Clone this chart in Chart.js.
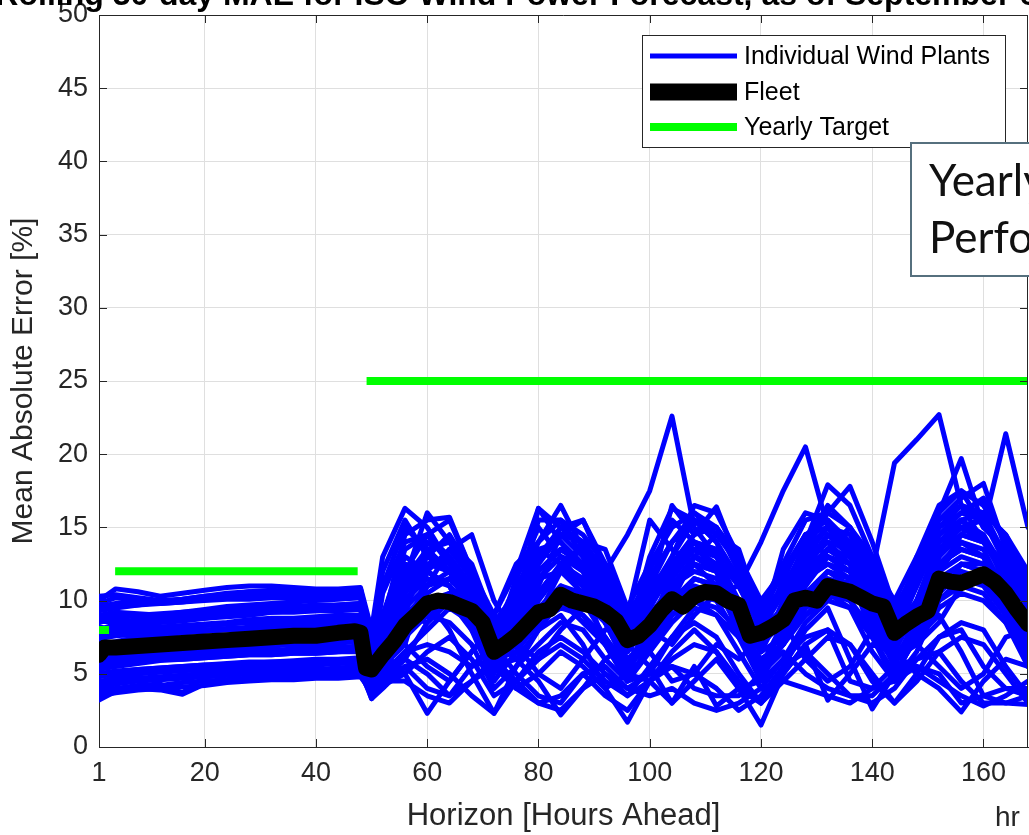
<!DOCTYPE html>
<html>
<head>
<meta charset="utf-8">
<script src="https://cdn.jsdelivr.net/npm/chart.js@4.4.0/dist/chart.umd.min.js"></script>
<style>
html,body{margin:0;padding:0;background:#fff;overflow:hidden}
#wrap{width:1029px;height:835px;position:relative}
</style>
</head>
<body>
<div id="wrap"><canvas id="maeChart"></canvas></div>
<script>
// horizons sampled for the individual plants
var plantHours = [1,4,8,12,16,20,24,28,32,36,40,44,48,50,52,56,60,64,68,72,76,80,84,88,92,96,100,104,108,112,116,120,124,128,132,136,140,144,148,152,156,160,164,168];

// I N D I V I D U A L  W I N D  P L A N T S  (MAE %, one row per plant)
var plantMae = [
  [10.0,10.8,10.6,10.3,10.5,10.7,10.9,11.0,11.0,10.9,10.8,10.8,10.9, 8.0,13.0, 16.3,15.0,12.5,10.0,7.5,10.5,14.0,16.5,13.5,11.0,8.5,11.5,14.0,15.5,14.0,11.5,8.0,10.5,13.0,15.0,13.5,11.0,8.5,11.5,15.0,16.0,15.5,13.0,10.0],
  [9.3,9.5,9.7,9.9,10.1,10.3,10.4,10.6,10.5,10.4,10.3,10.3,10.6, 6.5,9.0, 13.0,12.0,11.0,9.0,6.5,9.0,12.0,13.5,12.5,12.0,14.5,17.5,22.6,15.0,13.0,11.0,14.0,17.5,20.5,15.0,13.0,12.0,19.4,21.0,22.7,16.5,14.0,12.0,10.5],
  [9.0,9.2,9.1,9.0,9.2,9.4,9.6,9.7,9.8,9.9,10.0,10.1,10.2, 5.5,8.0, 12.0,14.5,15.5,12.0,8.0,11.0,13.5,14.0,12.0,10.0,7.0,10.5,13.0,16.5,16.0,13.0,9.0,12.0,14.0,17.9,16.5,13.0,9.0,12.5,16.0,19.7,15.0,21.4,15.0],
  [8.5,8.8,9.0,8.8,8.9,9.1,9.3,9.5,9.6,9.6,9.5,9.7,9.8, 5.0,7.5, 11.5,16.0,14.0,11.5,7.0,9.5,16.3,15.0,15.5,12.0,8.0,10.5,16.5,14.5,16.4,12.5,8.5,11.0,13.5,16.0,17.8,14.0,9.5,12.0,15.5,17.0,18.0,13.5,11.0],
  [7.5,7.8,7.9,8.0,8.1,8.3,8.4,8.5,8.5,8.6,8.6,8.7,8.8, 6.0,6.5, 5.0,2.3,4.5,6.5,8.0,6.0,4.5,2.2,4.0,6.0,7.0,5.5,3.0,4.5,6.0,4.0,1.5,5.0,7.0,3.2,5.0,7.0,6.5,5.0,4.0,2.4,4.5,6.0,5.5],
  [6.5,6.6,6.8,7.0,7.0,7.2,7.3,7.4,7.5,7.6,7.5,7.6,7.7, 4.5,6.0, 8.5,10.0,8.0,5.0,2.3,5.5,8.0,9.0,7.0,4.0,1.7,4.5,6.5,8.0,6.5,4.0,3.0,5.5,8.0,9.5,6.0,2.6,5.0,7.5,9.0,6.5,3.5,3.0,2.9],
  [8.0,8.2,8.3,8.5,8.6,8.8,9.0,9.1,9.2,9.2,9.3,9.3,9.4, 5.5,7.0, 10.5,12.5,13.0,11.0,7.5,9.0,11.5,13.0,12.5,10.5,7.5,9.5,12.0,13.5,13.0,11.0,8.0,9.5,12.0,13.5,13.0,11.0,8.0,10.0,13.5,14.5,14.0,12.0,9.5],
  [7.0,7.2,7.5,7.6,7.8,7.9,8.0,8.2,8.3,8.4,8.5,8.6,8.7, 5.0,6.5, 9.5,11.0,12.0,10.0,6.0,8.0,10.5,12.0,11.5,9.5,6.5,8.5,11.0,12.5,12.0,10.0,7.0,9.0,11.5,12.5,12.0,10.5,7.0,9.5,12.5,13.5,13.0,11.0,8.5],
  [5.0,5.2,5.3,5.4,5.5,5.6,5.7,5.8,5.8,5.9,6.0,6.0,6.1, 4.0,5.5, 9.0,14.0,13.0,9.5,5.0,7.5,12.5,14.5,13.0,9.0,5.0,8.0,12.0,14.0,13.5,9.0,5.0,8.5,12.0,14.5,13.5,9.0,5.5,9.0,13.0,15.5,14.5,11.0,7.0],
  [4.5,4.6,4.7,4.8,4.9,5.0,5.1,5.2,5.2,5.3,5.3,5.4,5.5, 3.3,4.5, 6.0,8.5,10.0,8.0,5.5,6.0,8.0,10.0,9.0,7.0,4.5,6.5,9.0,10.5,10.0,7.5,5.0,7.0,9.5,11.0,10.0,7.5,5.0,7.5,10.5,12.0,11.5,9.0,6.0],
  [3.2,3.8,4.0,3.9,3.6,4.3,4.6,4.7,4.8,4.9,4.9,5.0,5.1, 4.5,5.5, 7.5,9.0,8.5,7.0,4.0,5.5,7.0,8.5,8.0,6.0,4.5,5.0,7.5,9.5,9.0,6.5,4.0,6.0,8.5,10.0,9.5,6.5,4.5,6.5,10.0,11.0,10.5,8.5,5.5],
  [3.8,4.0,4.2,4.3,3.7,4.8,4.9,5.0,5.1,5.1,5.2,5.2,5.3, 3.8,5.0, 6.5,7.0,6.5,5.5,6.0,4.0,5.0,6.5,5.5,4.0,5.0,4.5,3.0,5.5,2.8,4.0,4.5,6.0,7.5,8.0,4.5,4.0,5.5,6.0,7.5,8.0,5.5,4.0,3.5],
  [6.0,6.2,6.3,6.4,6.5,6.6,6.7,6.8,6.9,7.0,7.0,7.1,7.2, 4.5,6.0, 9.0,10.5,11.5,10.0,7.0,7.5,9.5,11.0,10.5,9.0,7.0,8.0,10.0,11.5,11.0,9.5,7.0,8.5,10.5,12.0,11.5,9.5,7.5,8.5,11.5,12.5,12.5,10.5,8.5],
  [7.2,7.0,7.1,7.3,7.4,7.4,7.5,7.6,7.7,7.8,7.9,8.0,8.1, 4.8,7.0, 11.0,13.5,12.0,9.5,6.0,8.5,11.0,14.5,15.5,12.5,9.0,15.5,13.5,12.5,11.0,9.5,6.5,10.0,13.0,14.0,12.5,10.0,6.5,10.0,14.0,15.0,14.0,12.5,9.0],
  [9.0,8.7,8.5,8.6,8.7,8.8,8.9,9.0,9.2,9.3,9.3,9.4,9.5, 6.5,8.5, 14.5,15.5,15.7,12.0,8.0,9.5,12.5,15.0,14.0,11.0,7.5,10.0,13.0,15.5,14.5,12.5,8.5,10.5,14.0,16.5,15.0,12.5,8.0,11.0,14.5,16.0,17.0,14.0,10.0],
  [4.0,4.3,4.5,4.7,4.9,5.0,5.2,5.4,5.5,5.5,5.6,5.7,5.8, 3.5,4.5, 5.5,4.0,3.5,5.5,7.0,5.0,3.5,3.0,5.0,5.5,4.0,5.0,5.5,4.0,3.5,3.5,5.0,6.5,5.0,4.0,3.5,3.5,5.0,5.5,5.0,3.0,3.5,4.0,4.0],
  [5.5,5.7,5.8,6.0,6.1,6.2,6.3,6.4,6.5,6.5,6.6,6.6,6.7, 4.2,5.5, 7.5,9.5,10.5,9.5,8.0,7.0,8.5,10.5,10.0,8.5,6.0,7.5,9.5,11.0,10.5,9.0,6.5,7.5,10.0,11.5,11.0,9.0,6.0,8.0,11.0,12.5,12.0,10.0,7.5],
  [8.2,8.0,8.1,8.2,8.3,8.4,8.5,8.7,8.8,8.8,8.9,9.0,9.0, 5.5,7.5, 12.0,13.0,12.5,11.0,9.0,12.0,16.3,14.0,12.5,10.0,8.0,9.5,12.5,14.5,15.0,13.0,9.5,12.0,14.5,15.5,13.5,11.0,8.5,11.5,14.0,15.5,16.0,13.0,10.5],
  [6.8,6.9,7.0,7.2,7.3,7.3,7.4,7.5,7.6,7.6,7.7,7.8,7.9, 5.0,6.0, 8.0,9.0,10.0,10.5,9.0,7.0,6.0,8.0,9.5,10.5,9.0,8.0,7.0,9.0,10.5,11.0,8.5,7.5,9.0,10.0,11.5,10.5,8.5,7.0,8.5,11.0,12.0,11.5,9.5],
  [4.2,4.4,4.5,4.6,4.7,4.8,4.9,5.0,5.0,5.1,5.1,5.2,5.2, 3.3,4.0, 5.5,6.0,5.0,3.5,2.3,4.5,6.5,7.5,6.5,5.0,3.5,5.5,7.5,8.5,7.5,5.0,3.0,5.0,7.0,8.0,7.0,5.0,3.0,5.0,7.5,8.5,8.0,5.5,3.5],
  [9.5,9.6,9.7,9.8,9.9,10.0,10.1,10.1,10.2,10.2,10.2,10.3,10.4, 6.0,8.0, 11.5,13.5,14.0,12.5,8.5,10.0,13.0,14.5,14.0,11.5,8.5,11.0,14.0,15.5,15.0,12.0,9.0,11.0,13.5,15.0,14.5,12.0,9.5,12.0,15.0,16.5,15.5,13.0,10.5],
  [3.5,3.7,3.9,4.0,4.1,4.2,4.4,4.5,4.6,4.6,4.7,4.7,4.8, 3.8,4.8, 6.5,8.0,9.5,8.5,6.0,6.5,8.5,9.5,9.0,7.5,5.0,6.5,8.5,10.0,9.5,8.0,6.0,7.0,9.0,10.5,10.0,8.0,6.0,7.5,10.0,11.5,11.0,9.0,6.5],
  [5.8,6.0,6.1,6.2,6.3,6.4,6.5,6.6,6.6,6.7,6.8,6.8,6.9, 4.0,5.0, 8.5,11.0,11.5,10.0,5.5,7.0,10.0,12.0,11.0,8.5,5.5,7.5,10.5,12.5,12.0,9.0,5.5,8.0,11.0,13.0,12.5,9.5,6.0,8.5,12.0,14.0,13.5,10.5,7.0],
  [8.8,8.9,9.0,9.1,9.2,9.3,9.4,9.5,9.5,9.6,9.7,9.7,9.8, 7.0,9.0, 13.5,14.5,13.0,11.0,8.5,10.5,13.0,15.0,14.0,12.0,9.0,11.5,14.0,16.0,15.0,12.5,9.5,12.5,15.5,16.0,15.0,12.0,9.0,12.5,16.0,17.5,16.5,14.0,11.0],
  [5.0,5.1,5.3,5.4,5.5,5.6,5.6,5.7,5.8,5.8,5.9,5.9,6.0, 4.5,5.0, 6.0,5.0,3.5,4.5,6.0,4.5,3.0,3.5,5.0,3.5,2.5,4.5,5.5,5.0,4.0,2.5,3.5,5.5,6.5,5.0,3.5,3.0,4.0,6.0,6.5,4.5,3.0,3.0,3.5],
  [6.5,6.7,6.8,6.9,7.0,7.1,7.2,7.2,7.3,7.4,7.4,7.5,7.5, 4.8,6.2, 10.0,12.0,11.0,9.5,7.0,8.5,10.5,12.5,11.5,9.5,7.0,8.5,11.0,13.0,12.5,10.0,7.5,9.0,11.5,13.5,13.0,10.5,7.5,9.5,13.0,14.5,14.0,11.5,8.5],
  [9.8,10.2,10.0,9.8,9.9,10.1,10.2,10.4,10.5,10.4,10.5,10.6,10.8, 7.5,11.0, 15.0,13.5,12.0,9.5,7.0,11.5,15.0,13.0,11.0,9.5,7.5,12.0,15.5,14.0,12.0,10.0,7.5,11.5,14.5,13.0,12.0,10.0,7.5,11.0,14.5,15.5,14.0,12.5,9.5],
  [8.0,8.4,8.6,8.7,8.9,9.0,9.2,9.3,9.4,9.5,9.6,9.6,9.7, 5.2,6.0, 8.0,11.0,13.5,14.5,10.0,7.5,9.0,12.0,14.0,13.5,9.5,8.0,10.0,13.0,14.5,13.5,9.0,8.5,11.0,13.5,15.0,13.0,9.0,8.5,12.0,14.5,16.0,14.5,11.5],
  [5.3,5.5,5.7,5.9,6.0,6.1,6.2,6.3,6.3,6.4,6.4,6.5,6.6, 3.8,5.0, 8.0,10.0,10.5,9.0,6.0,6.5,9.0,11.0,10.0,7.5,5.5,7.0,9.5,11.5,11.0,8.0,5.5,7.0,10.0,12.0,11.0,8.5,6.0,7.5,10.5,12.5,12.0,9.5,6.5],
  [7.8,8.0,8.1,8.2,8.2,8.3,8.4,8.5,8.6,8.7,8.7,8.8,8.9, 5.5,6.0, 7.0,5.5,4.5,6.5,8.5,7.0,5.0,4.0,6.0,8.0,9.0,6.5,4.5,5.0,7.0,6.0,7.5,8.5,6.0,4.5,5.5,8.0,9.5,7.0,5.5,4.0,5.0,7.5,8.0],
  [9.6,9.8,9.9,10.0,10.0,10.1,10.2,10.3,10.4,10.5,10.5,10.6,10.7, 5.8,10.5, 14.0,14.5,12.5,10.5,6.5,10.0,15.5,15.5,13.0,10.5,7.5,13.0,16.3,15.5,14.0,11.0,8.0,13.5,16.0,15.5,14.0,11.5,8.0,13.0,16.5,17.5,15.0,13.5,11.0],
  [4.8,5.0,5.0,5.1,5.2,5.3,5.4,5.5,5.5,5.6,5.7,5.7,5.8, 4.0,5.5, 7.0,12.0,11.0,8.0,4.5,6.5,10.5,12.5,11.0,7.0,4.5,7.0,11.0,13.0,12.0,7.5,4.5,7.5,11.5,13.0,12.0,7.5,4.5,8.0,12.5,13.5,13.0,9.0,5.5],
  [6.2,6.4,6.5,6.6,6.7,6.8,6.9,7.0,7.1,7.1,7.2,7.3,7.3, 5.0,6.5, 10.5,13.0,12.0,10.5,7.5,9.5,12.0,13.5,12.5,10.0,7.0,9.5,12.5,14.0,13.0,10.0,7.0,9.5,12.5,14.0,13.5,10.0,7.0,10.0,13.5,15.0,14.5,12.0,9.0],
  [3.6,3.9,4.1,4.2,4.4,4.5,4.6,4.7,4.8,4.8,4.9,4.9,5.0, 3.5,4.2, 5.0,6.5,7.5,6.0,3.5,4.5,6.0,7.0,6.0,4.5,3.5,4.5,6.0,7.0,6.5,4.5,3.0,4.5,6.0,7.5,7.0,4.5,3.0,4.5,6.5,7.5,7.0,5.0,3.0],
  [8.6,8.5,8.7,8.9,9.0,9.1,9.1,9.2,9.3,9.4,9.4,9.5,9.6, 6.0,8.0, 12.5,12.0,13.5,11.5,8.0,10.5,13.5,12.5,13.5,11.0,8.0,11.0,12.5,14.0,13.5,11.5,8.0,11.0,12.5,14.5,13.0,11.5,8.5,11.5,13.5,15.0,15.5,12.5,10.0],
  [7.4,7.6,7.7,7.8,7.9,8.0,8.1,8.1,8.2,8.2,8.3,8.3,8.4, 4.6,6.8, 10.0,11.5,11.0,8.5,6.5,9.0,11.5,12.0,10.5,8.5,6.5,9.0,11.0,12.0,11.5,8.5,6.5,9.5,11.5,12.5,11.5,9.0,6.5,9.5,12.0,13.0,12.5,10.0,8.0],
  [5.6,5.8,5.9,6.0,6.0,6.1,6.2,6.3,6.3,6.4,6.4,6.5,6.5, 4.0,4.5, 4.5,3.5,3.0,4.5,5.5,4.0,3.0,2.5,4.0,5.0,4.0,3.5,4.0,3.0,2.5,3.0,4.0,4.5,4.0,3.5,3.0,4.0,4.5,5.5,4.5,3.5,2.8,3.5,4.5],
  [10.3,10.4,10.2,10.0,10.1,10.3,10.5,10.6,10.7,10.6,10.6,10.7,10.8, 7.0,12.0, 15.5,13.0,14.5,12.0,9.0,12.5,14.0,15.5,14.5,12.5,9.5,12.5,15.0,16.0,14.5,13.0,10.0,12.0,14.5,15.0,14.0,12.5,10.0,13.0,15.5,16.5,16.0,14.5,12.0],
  [4.4,4.8,5.0,5.2,5.3,5.4,5.4,5.5,5.6,5.6,5.7,5.8,5.8, 4.2,5.8, 9.5,12.5,12.0,9.0,5.5,8.0,11.5,13.0,12.0,8.5,5.5,8.5,11.5,13.5,12.5,8.5,5.5,8.5,12.0,13.5,12.5,8.5,5.5,9.0,12.5,14.0,13.0,10.0,6.0],
  [7.8,7.7,7.6,7.7,7.8,7.9,8.0,8.0,8.1,8.1,8.2,8.2,8.3, 5.8,7.2, 9.0,8.5,10.0,9.0,7.5,7.0,9.0,10.0,8.5,7.0,5.5,7.5,9.0,10.0,9.0,7.5,6.0,7.0,9.5,10.5,9.5,7.5,6.0,7.0,9.5,10.5,10.0,8.5,7.5]
];

// F L E E T
var fleetHours = [1,2,4,8,12,16,20,24,28,32,36,40,44,47,48,49,50,52,54,56,58,60,62,64,66,68,70,72,74,76,78,80,82,84,86,88,90,92,94,96,98,100,102,104,106,108,110,112,114,116,118,120,122,124,126,128,130,132,134,136,138,140,142,144,146,148,150,152,154,156,158,160,162,164,166,168];
var fleetMae = [6.3,6.8,6.8,6.9,7.0,7.1,7.2,7.3,7.4,7.5,7.6,7.6,7.8,7.9,7.8,5.4,5.3,
  6.3,7.2,8.3,9.0,9.8,10.0,9.9,9.6,9.3,8.5,6.5,7.0,7.6,8.4,9.2,9.4,10.4,10.0,9.8,9.6,9.2,8.6,7.3,7.6,8.3,9.3,10.1,9.6,10.3,10.6,
  10.5,10.0,9.7,7.6,7.8,8.2,8.7,10.0,10.2,10.0,11.0,10.8,10.6,10.2,9.8,9.6,7.8,8.4,8.9,9.3,11.5,11.3,11.2,11.5,11.8,11.3,10.5,9.4,8.4];

// Y E A R L Y  T A R G E T  (null breaks the steps)
var targetHours = [1,2.8,2.8,3.9,47.5,47.5,49.1,168];
var targetMae = [8,8,null,12,12,null,25,25];

var xTickValues = [1,20,40,60,80,100,120,140,160];
var legendLabels = ["Individual Wind Plants","Fleet","Yearly Target"];
var chartTitle = "Rolling 30-day MAE for ISO Wind Power Forecast, as of September 6";

var FONT = "'Liberation Sans', Arial, sans-serif";
var AXIS = "#262626";

function toPoints(xs, ys){
    return xs.map(function(x, i){ return {x: x, y: ys[i]}; });
}

var datasets = [];
datasets.push({
    label: legendLabels[2],
    data: toPoints(targetHours, targetMae),
    borderColor: "#00ff00",
    borderWidth: 8,
    borderCapStyle: "butt",
    pointRadius: 0,
    spanGaps: false,
    order: 0
});
datasets.push({
    label: legendLabels[1],
    data: toPoints(fleetHours, fleetMae),
    borderColor: "#000000",
    borderWidth: 16,
    borderJoinStyle: "round",
    borderCapStyle: "round",
    pointRadius: 0,
    order: 1
});
plantMae.forEach(function(row, i){
    datasets.push({
        label: i == 0 ? legendLabels[0] : "",
        data: toPoints(plantHours, row),
        borderColor: "#0000ff",
        borderWidth: 5,
        borderJoinStyle: "round",
        borderCapStyle: "round",
        pointRadius: 0,
        order: 2
    });
});

// box, inside ticks, legend, title and text box (MATLAB look)
var decor = {
    id: "decor",
    afterDraw: function(chart){
        var ctx = chart.ctx, a = chart.chartArea;
        var xs = chart.scales.x, ys = chart.scales.y;
        ctx.save();
        ctx.strokeStyle = AXIS;
        ctx.lineWidth = 1;
        ctx.beginPath();
        ctx.moveTo(a.left, a.top + 0.5); ctx.lineTo(a.right, a.top + 0.5);
        ctx.moveTo(a.right - 0.5, a.top); ctx.lineTo(a.right - 0.5, a.bottom);
        xTickValues.forEach(function(v){
            var px = Math.round(xs.getPixelForValue(v)) + 0.5;
            ctx.moveTo(px, a.bottom); ctx.lineTo(px, a.bottom - 8);
            ctx.moveTo(px, a.top); ctx.lineTo(px, a.top + 8);
        });
        ys.ticks.forEach(function(t){
            var py = Math.round(ys.getPixelForValue(t.value)) + 0.5;
            ctx.moveTo(a.left, py); ctx.lineTo(a.left + 8, py);
            ctx.moveTo(a.right, py); ctx.lineTo(a.right - 8, py);
        });
        ctx.stroke();

        // legend
        ctx.fillStyle = "#ffffff";
        ctx.fillRect(642, 35, 364, 113);
        ctx.strokeStyle = "#262626";
        ctx.strokeRect(642.5, 35.5, 363, 112);
        var rows = [
            {y: 56, ds: chart.data.datasets[2], w: 5},
            {y: 92, ds: chart.data.datasets[1], w: 17},
            {y: 127, ds: chart.data.datasets[0], w: 8}
        ];
        ctx.font = "25px " + FONT;
        ctx.textBaseline = "middle";
        ctx.textAlign = "left";
        rows.forEach(function(r){
            ctx.strokeStyle = r.ds.borderColor;
            ctx.lineWidth = r.w;
            ctx.lineCap = "butt";
            ctx.beginPath();
            ctx.moveTo(650, r.y); ctx.lineTo(737, r.y);
            ctx.stroke();
            ctx.fillStyle = "#000000";
            ctx.fillText(r.ds.label, 744, r.y + 1);
        });

        // cut-off title
        ctx.font = "bold 32px " + FONT;
        ctx.textBaseline = "alphabetic";
        ctx.fillStyle = "#000000";
        var x0 = 94 - ctx.measureText("Rollin").width - ctx.measureText("g").width / 2;
        ctx.fillText(chartTitle, x0, 5);

        // slide text box
        ctx.fillStyle = "#ffffff";
        ctx.fillRect(910, 142, 130, 135);
        ctx.strokeStyle = "#56707e";
        ctx.lineWidth = 2;
        ctx.strokeRect(911, 143, 130, 133);
        ctx.fillStyle = "#111111";
        ctx.font = "44px Lato, 'Open Sans', sans-serif";
        ctx.fillText("Yearly", 929, 196);
        ctx.fillText("Performance", 929, 253);

        // unit note bottom right
        ctx.fillStyle = AXIS;
        ctx.font = "28px " + FONT;
        ctx.fillText("hr", 995, 826);
        ctx.restore();
    }
};

var config = {
    type: "line",
    data: {datasets: datasets},
    options: {
        responsive: true,
        maintainAspectRatio: false,
        animation: false,
        devicePixelRatio: 1,
        layout: {padding: {top: 15, right: 1, left: 0, bottom: 0}},
        plugins: {
            legend: {display: false},
            tooltip: {enabled: false},
            title: {display: false}
        },
        scales: {
            x: {
                type: "linear",
                min: 1,
                max: 168,
                afterBuildTicks: function(scale){
                    scale.ticks = xTickValues.map(function(v){ return {value: v}; });
                },
                afterFit: function(scale){
                    scale.height = 88;
                    scale.paddingLeft = 0;
                    scale.paddingRight = 0;
                },
                ticks: {
                    autoSkip: false,
                    maxRotation: 0,
                    padding: 10,
                    color: AXIS,
                    font: {family: FONT, size: 27}
                },
                grid: {color: "#dfdfdf", drawTicks: false},
                border: {display: true, color: AXIS, width: 1},
                title: {
                    display: true,
                    text: "Horizon [Hours Ahead]",
                    color: AXIS,
                    font: {family: FONT, size: 31},
                    padding: {top: 0, bottom: 0}
                }
            },
            y: {
                min: 0,
                max: 50,
                afterFit: function(scale){
                    scale.width = 99;
                    scale.paddingTop = 0;
                    scale.paddingBottom = 0;
                },
                ticks: {
                    stepSize: 5,
                    padding: 11,
                    color: AXIS,
                    font: {family: FONT, size: 27}
                },
                grid: {color: "#dfdfdf", drawTicks: false},
                border: {display: true, color: AXIS, width: 1},
                title: {
                    display: true,
                    text: "Mean Absolute Error [%]",
                    color: AXIS,
                    font: {family: FONT, size: 30},
                    padding: {top: 6, bottom: 0}
                }
            }
        }
    },
    plugins: [decor]
};

var mychart = new Chart(document.getElementById("maeChart").getContext("2d"), config);
</script>
</body>
</html>
